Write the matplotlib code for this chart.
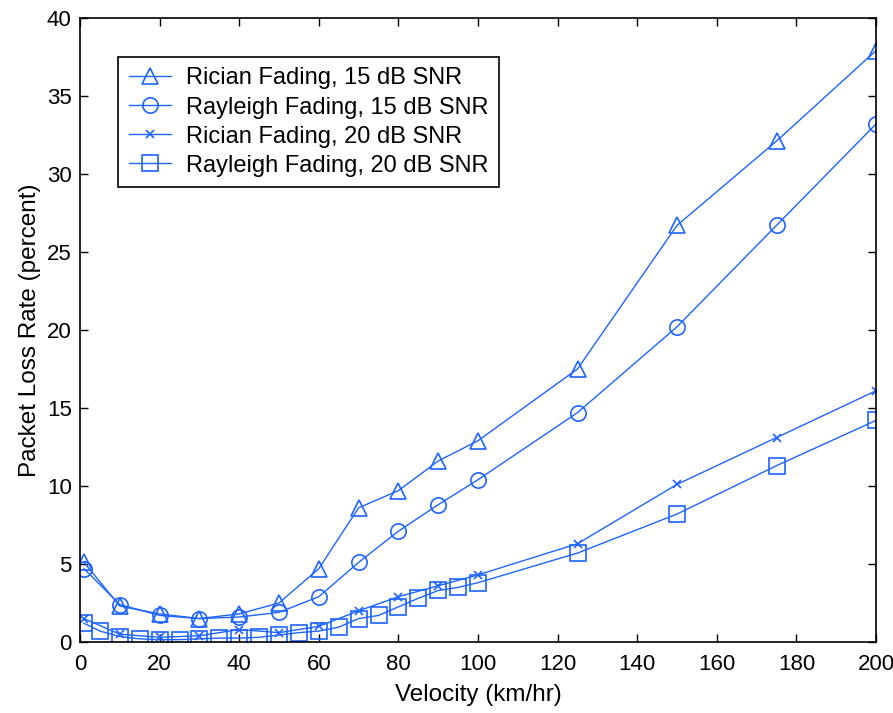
import matplotlib
matplotlib.use("Agg")
import matplotlib.pyplot as plt

# dados
vel_15 = [1, 10, 20, 30, 40, 50, 60, 70, 80, 90, 100, 125, 150, 175, 200]
rician_15 = [5.1, 2.3, 1.8, 1.5, 1.8, 2.5, 4.7, 8.6, 9.7, 11.6, 12.9, 17.5, 26.7, 32.1, 37.9]
rayleigh_15 = [4.7, 2.4, 1.7, 1.5, 1.6, 1.9, 2.9, 5.1, 7.1, 8.8, 10.4, 14.7, 20.2, 26.7, 33.2]

vel_r20 = [1, 10, 20, 30, 40, 50, 60, 70, 80, 90, 100, 125, 150, 175, 200]
rician_20 = [1.5, 0.5, 0.3, 0.4, 0.8, 0.6, 1.0, 2.0, 2.9, 3.6, 4.3, 6.3, 10.1, 13.1, 16.1]

vel_y20 = [1, 5, 10, 15, 20, 25, 30, 35, 40, 45, 50, 55, 60, 65, 70, 75, 80, 85, 90, 95, 100,
           125, 150, 175, 200]
rayleigh_20 = [1.2, 0.7, 0.35, 0.2, 0.15, 0.15, 0.2, 0.25, 0.25, 0.3, 0.45, 0.6, 0.7, 0.95,
               1.5, 1.7, 2.25, 2.8, 3.3, 3.5, 3.8, 5.7, 8.2, 11.3, 14.2]

cor = "#1E64FF"
plt.rcParams["font.family"] = ["Liberation Sans", "DejaVu Sans"]

fig = plt.figure(figsize=(8.93, 7.13), dpi=100)
ax = fig.add_axes([0.0896, 0.0996, 0.8914, 0.8754])

estilo = dict(color=cor, lw=1.0, mfc="none", mec=cor, mew=1.2)
ax.plot(vel_15, rician_15, marker="^", ms=12, label="Rician Fading, 15 dB SNR", **estilo)
ax.plot(vel_15, rayleigh_15, marker="o", ms=11, label="Rayleigh Fading, 15 dB SNR", **estilo)
ax.plot(vel_r20, rician_20, marker="x", ms=6, label="Rician Fading, 20 dB SNR", **estilo)
ax.plot(vel_y20, rayleigh_20, marker="s", ms=11, label="Rayleigh Fading, 20 dB SNR", **estilo)

ax.set_xlim(0, 200)
ax.set_ylim(0, 40)
ax.set_xticks(range(0, 201, 20))
ax.set_yticks(range(0, 41, 5))
ax.tick_params(direction="in", top=True, right=True, length=6, labelsize=16, width=1)
ax.tick_params(axis="x", pad=9)
ax.tick_params(axis="y", pad=6)
for s in ax.spines.values():
    s.set_linewidth(1.2)

ax.set_xlabel("Velocity (km/hr)", fontsize=17.5, labelpad=6)
ax.set_ylabel("Packet Loss Rate (percent)", fontsize=17.5, labelpad=4)

leg = ax.legend(loc="upper left", bbox_to_anchor=(0.048, 0.9375), borderaxespad=0,
                fontsize=17, numpoints=1, fancybox=False, edgecolor="black", framealpha=1,
                handlelength=1.8, borderpad=0.45, labelspacing=0.3, handletextpad=0.6)
leg.get_frame().set_linewidth(1.2)

fig.savefig("out.png", dpi=100)
